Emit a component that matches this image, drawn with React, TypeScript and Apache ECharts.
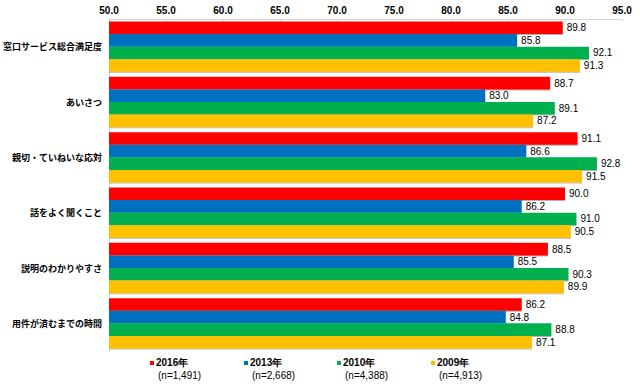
import React, { useEffect, useRef } from "react";
import * as echarts from "echarts";

const categories = [
  "窓口サービス総合満足度",
  "あいさつ",
  "親切・ていねいな応対",
  "話をよく聞くこと",
  "説明のわかりやすさ",
  "用件が済むまでの時間",
];
const seriesNames = ["2016年", "2013年", "2010年", "2009年"];
const sampleSizes = ["(n=1,491)", "(n=2,668)", "(n=4,388)", "(n=4,913)"];
const colors = ["#FF0000", "#0070C0", "#00B050", "#FFC000"];
const values2016 = [89.8, 88.7, 91.1, 90.0, 88.5, 86.2];
const values2013 = [85.8, 83.0, 86.6, 86.2, 85.5, 84.8];
const values2010 = [92.1, 89.1, 92.8, 91.0, 90.3, 88.8];
const values2009 = [91.3, 87.2, 91.5, 90.5, 89.9, 87.1];
const allValues = [values2016, values2013, values2010, values2009];
const legendX = [150, 244, 337, 431];

export default function App() {
  const ref = useRef<HTMLDivElement>(null);
  useEffect(() => {
    if (!ref.current) return;
    const chart = echarts.init(ref.current, null, { renderer: "svg" });
    const font = "'Liberation Sans', Arial, sans-serif";
    const graphic: any[] = [];
    seriesNames.forEach((n, i) => {
      graphic.push({
        type: "rect",
        left: legendX[i],
        top: 361,
        shape: { width: 4, height: 4 },
        style: { fill: colors[i] },
      });
      graphic.push({
        type: "text",
        left: legendX[i] + 6,
        top: 357,
        style: { text: n, font: "bold 10px " + font, fill: "#000" },
      });
      graphic.push({
        type: "text",
        left: legendX[i] + 8,
        top: 370,
        style: { text: sampleSizes[i], font: "10px " + font, fill: "#000" },
      });
    });
    chart.setOption({
      animation: false,
      backgroundColor: "#fff",
      grid: { left: 107, right: 18, top: 19, bottom: 35, containLabel: false },
      xAxis: {
        type: "value",
        position: "top",
        min: 50,
        max: 95,
        interval: 5,
        axisLine: { show: true, lineStyle: { color: "#d9d9d9" } },
        axisTick: { show: true, inside: true, length: 3, lineStyle: { color: "#d9d9d9" } },
        splitLine: { show: false },
        axisLabel: {
          formatter: (v: number) => v.toFixed(1),
          fontFamily: font,
          fontSize: 10,
          fontWeight: "bold",
          color: "#000",
          margin: 4,
        },
      },
      yAxis: {
        type: "category",
        data: categories,
        inverse: true,
        axisLine: { show: true, lineStyle: { color: "#d9d9d9" } },
        axisTick: { show: false },
        axisLabel: {
          fontSize: 9,
          fontWeight: "bold",
          color: "#000",
          margin: 7,
          fontFamily: "'Noto Sans CJK JP', sans-serif",
        },
      },
      series: seriesNames.map((n, i) => ({
        name: n,
        type: "bar",
        data: allValues[i],
        barGap: "0%",
        barCategoryGap: "9%",
        itemStyle: {
          color: colors[i],
          shadowColor: "rgba(0,0,0,0.3)",
          shadowOffsetY: 1,
          shadowBlur: 1,
        },
        label: {
          show: true,
          position: "right",
          distance: 4,
          fontSize: 10,
          fontFamily: font,
          color: "#000",
          formatter: (p: any) => p.value.toFixed(1),
        },
      })),
      graphic,
    });
    return () => chart.dispose();
  }, []);
  return (
    <div
      ref={ref}
      style={{ position: "fixed", left: 0, top: 0, width: 640, height: 386 }}
    />
  );
}
